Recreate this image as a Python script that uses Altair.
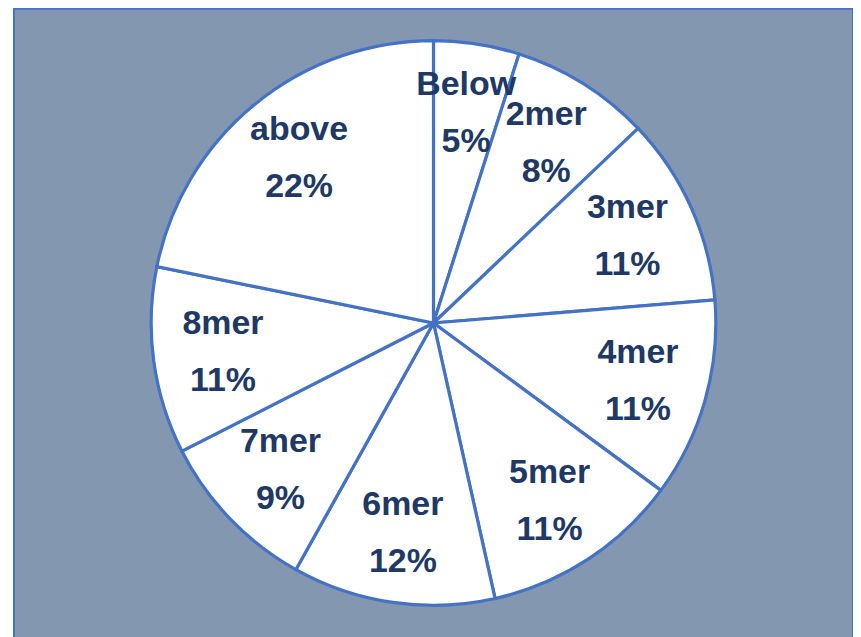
import altair as alt
import pandas as pd

categories = ["Below", "2mer", "3mer", "4mer", "5mer", "6mer", "7mer", "8mer", "above"]
shares = [4.9, 8.0, 10.8, 11.4, 11.4, 11.6, 9.4, 10.7, 21.8]
pct_labels = ["5%", "8%", "11%", "11%", "11%", "12%", "9%", "11%", "22%"]

W, H = 841, 630

df = pd.DataFrame({
    "cat": categories,
    "share": shares,
    "pct": pct_labels,
    "idx": list(range(len(categories))),
})
df["label"] = df["cat"] + "\n" + df["pct"]

panel = alt.Chart(df).mark_rect(
    fill="#8497B0", stroke="#4472C4", strokeWidth=2
).encode(
    x=alt.value(0), x2=alt.value(W), y=alt.value(0), y2=alt.value(H + 4)
).transform_filter(alt.datum.idx == 0)

base = alt.Chart(df).encode(
    theta=alt.Theta("share:Q", stack=True),
    order=alt.Order("idx:Q", sort="ascending"),
    detail="cat:N",
)

arcs = base.mark_arc(outerRadius=283, fill="white", stroke="#4472C4", strokeWidth=3.2)

texts = base.mark_text(
    radius=213,
    dy=-28,
    fontSize=34,
    fontWeight="bold",
    font="Liberation Sans",
    color="#203864",
    lineBreak="\n",
    lineHeight=57,
    align="center",
    baseline="middle",
).encode(text="label:N")

chart = (
    (panel + arcs + texts)
    .properties(
        width=W,
        height=H,
        padding={"left": 6, "top": 0, "right": 0, "bottom": 0},
        autosize=alt.AutoSizeParams(type="none"),
        background="white",
    )
    .configure_view(stroke=None)
)

chart.save("out.html", embed_options={"renderer": "svg", "actions": False})
